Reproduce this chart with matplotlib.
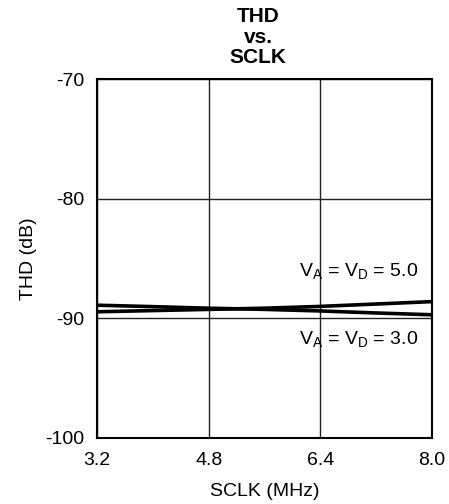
import matplotlib.pyplot as plt
import numpy as np

plt.rcParams['font.family'] = ['Liberation Sans', 'DejaVu Sans']
plt.rcParams['mathtext.fontset'] = 'custom'
plt.rcParams['mathtext.rm'] = 'Liberation Sans'
plt.rcParams['mathtext.it'] = 'Liberation Sans'
plt.rcParams['axes.unicode_minus'] = False

#%% Dados

sclk = [3.2, 4.0, 4.8, 5.6, 6.4, 7.2, 8.0]
thd_5v = [-89.45, -89.35, -89.25, -89.15, -89.0, -88.8, -88.6]
thd_3v = [-88.9, -89.02, -89.15, -89.25, -89.38, -89.55, -89.7]

xticks = [3.2, 4.8, 6.4, 8.0]
yticks = [-100, -90, -80, -70]

#%% Gráfico

fig = plt.figure(figsize=(4.49, 5.04), dpi=100)
ax = fig.add_axes([0.216, 0.131, 0.746, 0.712])

ax.plot(sclk, thd_5v, color='black', linewidth=2.6)
ax.plot(sclk, thd_3v, color='black', linewidth=2.6)

ax.set_xlim(3.2, 8.0)
ax.set_ylim(-100, -70)
ax.set_xticks(xticks)
ax.set_xticklabels(['3.2', '4.8', '6.4', '8.0'])
ax.set_yticks(yticks)
ax.tick_params(axis='both', length=0, labelsize=14)
ax.tick_params(axis='y', pad=9)
ax.tick_params(axis='x', pad=10)
ax.grid(True, color='#222222', linewidth=1.0)
for s in ax.spines.values():
    s.set_linewidth(1.5)

ax.text(7.8, -86.0, r'V$_\mathrm{A}$ = V$_\mathrm{D}$ = 5.0', ha='right', va='center', fontsize=14)
ax.text(7.8, -91.7, r'V$_\mathrm{A}$ = V$_\mathrm{D}$ = 3.0', ha='right', va='center', fontsize=14)

ax.set_xlabel('SCLK (MHz)', fontsize=14, labelpad=10)
ax.set_ylabel('THD (dB)', fontsize=14, labelpad=6)

# titulo em tres linhas
for txt, yb in [('THD', 22), ('vs.', 43), ('SCLK', 63)]:
    fig.text(258 / 449, 1 - yb / 504, txt, ha='center', va='baseline',
             fontsize=15, fontweight='bold')

plt.savefig('out.png', dpi=100)
